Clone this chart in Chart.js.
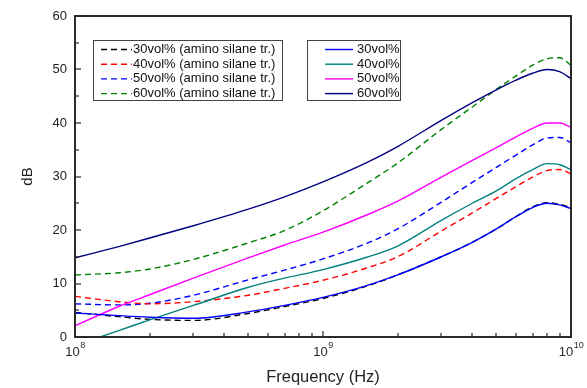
<!DOCTYPE html>
<html>
<head>
<meta charset="utf-8">
<script src="https://cdn.jsdelivr.net/npm/chart.js@4"></script>
<style>
  body { margin: 0; background: #fff; }
  #wrap { width: 587px; height: 388px; }
</style>
</head>
<body>
<div id="wrap"><canvas id="emiChart" width="587" height="388"></canvas></div>
<script>
// frequency points (Hz)
const freqs = [1e8, 1.5e8, 2e8, 3e8, 5e8, 7e8, 1e9, 1.5e9, 2e9, 3e9, 4e9, 5e9, 6e9, 7e9, 8e9, 9e9, 1e10];

// amino silane treated (dashed)
const amino30 = [4.6, 3.8, 3.3, 3.1, 4.4, 5.7, 7.2, 9.5, 11.6, 15.0, 17.7, 20.2, 22.5, 24.3, 25.1, 24.8, 24.2];
const amino40 = [7.6, 6.6, 6.2, 6.6, 7.8, 9.1, 10.6, 12.9, 15.0, 19.8, 23.2, 25.9, 28.1, 29.9, 31.1, 31.3, 30.5];
const amino50 = [6.2, 6.0, 6.3, 7.8, 10.7, 12.5, 14.6, 17.5, 20.2, 25.2, 28.9, 31.7, 34.0, 35.9, 37.2, 37.3, 36.3];
const amino60 = [11.6, 12.0, 12.7, 14.5, 17.6, 19.9, 23.6, 28.7, 32.5, 38.8, 43.0, 46.3, 48.8, 50.8, 52.0, 52.2, 50.8];

// untreated (solid)
const plain30 = [4.5, 4.0, 3.7, 3.5, 4.7, 5.9, 7.4, 9.6, 11.6, 15.0, 17.7, 20.2, 22.5, 24.2, 25.0, 24.7, 24.0];
const plain40 = [-1.6, 1.2, 3.2, 5.9, 9.3, 11.0, 12.6, 14.9, 17.0, 21.8, 25.0, 27.3, 29.6, 31.3, 32.4, 32.2, 31.3];
const plain50 = [2.1, 5.7, 7.9, 11.0, 14.8, 17.2, 19.6, 22.8, 25.4, 29.9, 33.0, 35.4, 37.4, 39.0, 40.0, 40.0, 39.2];
const plain60 = [14.8, 16.9, 18.5, 20.8, 23.9, 26.2, 29.0, 32.6, 35.6, 40.5, 43.8, 46.2, 48.0, 49.3, 50.0, 49.6, 48.3];

const yTicks = [0, 10, 20, 30, 40, 50, 60];
const xDecades = [8, 9, 10];

const aminoLabels = ['30vol% (amino silane tr.)', '40vol% (amino silane tr.)', '50vol% (amino silane tr.)', '60vol% (amino silane tr.)'];
const plainLabels = ['30vol%', '40vol%', '50vol%', '60vol%'];
const aminoColors = ['#000000', '#ff0000', '#0000ff', '#008000'];
const plainColors = ['#0000ff', '#008080', '#ff00ff', '#000080'];

function pts(vals) {
    return vals.map((v, i) => ({ x: freqs[i], y: v }));
}

const plainSets = [plain30, plain40, plain50, plain60].map((d, i) => ({
    label: plainLabels[i],
    data: pts(d),
    borderColor: plainColors[i],
    borderWidth: 1.4,
    pointRadius: 0,
    cubicInterpolationMode: 'monotone',
    fill: false
}));

const aminoSets = [amino30, amino40, amino50, amino60].map((d, i) => ({
    label: aminoLabels[i],
    data: pts(d),
    borderColor: aminoColors[i],
    borderWidth: 1.4,
    borderDash: [6, 4],
    pointRadius: 0,
    cubicInterpolationMode: 'monotone',
    fill: false
}));

// frame, inward ticks, superscript x labels, two legend boxes
const framePlugin = {
    id: 'frame',
    afterDraw(chart) {
        const ctx = chart.ctx;
        const L = Math.round(chart.chartArea.left);
        const R = Math.round(chart.chartArea.right);
        const T = Math.round(chart.chartArea.top);
        const B = Math.round(chart.chartArea.bottom);
        const xs = chart.scales.x;
        const ys = chart.scales.y;
        ctx.save();

        // frame as filled strips
        ctx.fillStyle = '#2a2a2a';
        ctx.fillRect(L - 1, T - 1, R - L + 2, 2);
        ctx.fillRect(L - 1, B - 1, R - L + 2, 2);
        ctx.fillRect(L - 1, T - 1, 2, B - T + 2);
        ctx.fillRect(R - 1, T - 1, 2, B - T + 2);

        // y ticks, major every 10, minor every 5
        for (let v = 0; v <= 60; v += 5) {
            const py = Math.round(ys.getPixelForValue(v));
            const len = v % 10 === 0 ? 6 : 4;
            ctx.fillRect(L, py - 0.6, len, 1.2);
        }
        // x ticks on log scale
        for (let d = 8; d <= 10; d++) {
            for (let k = 1; k <= 9; k++) {
                if (d === 10 && k > 1) break;
                const px = Math.round(xs.getPixelForValue(k * Math.pow(10, d)));
                const len = k === 1 ? 6 : 4;
                ctx.fillRect(px - 0.6, B - len, 1.2, len);
            }
        }

        // x labels 10^n
        ctx.textBaseline = 'alphabetic';
        ctx.textAlign = 'left';
        xDecades.forEach(d => {
            const px = xs.getPixelForValue(Math.pow(10, d));
            ctx.font = '13px Arial';
            const w1 = ctx.measureText('10').width;
            ctx.font = '9px Arial';
            const w2 = ctx.measureText(String(d)).width;
            const x0 = px - (w1 + w2) / 2;
            ctx.font = '13px Arial';
            ctx.fillText('10', x0, B + 19);
            ctx.font = '9px Arial';
            ctx.fillText(String(d), x0 + w1 + 0.5, B + 11);
        });

        // legends
        const drawLegend = (box, sets, lineX0, lineX1, textX) => {
            ctx.fillStyle = '#fff';
            ctx.fillRect(box.x, box.y, box.w, box.h);
            ctx.strokeStyle = '#444';
            ctx.lineWidth = 1;
            ctx.strokeRect(box.x + 0.5, box.y + 0.5, box.w, box.h);
            ctx.font = '13px Arial';
            ctx.textBaseline = 'middle';
            sets.forEach((s, i) => {
                const yy = box.y + 9.5 + i * 14.7;
                ctx.strokeStyle = s.borderColor;
                ctx.lineWidth = 1.4;
                ctx.setLineDash(s.borderDash || []);
                ctx.beginPath();
                ctx.moveTo(lineX0, yy);
                ctx.lineTo(lineX1, yy);
                ctx.stroke();
                ctx.setLineDash([]);
                ctx.fillStyle = '#111';
                ctx.fillText(s.label, textX, yy);
            });
        };
        drawLegend({ x: 93, y: 40, w: 189, h: 60 }, aminoSets, 101, 132, 133);
        drawLegend({ x: 307, y: 40, w: 93, h: 60 }, plainSets, 325, 353, 357);

        ctx.restore();
    }
};

new Chart(document.getElementById('emiChart'), {
    type: 'line',
    data: { datasets: plainSets.concat(aminoSets) },
    options: {
        responsive: false,
        animation: false,
        layout: { padding: { top: 16, right: 16, left: 0, bottom: 0 } },
        plugins: {
            legend: { display: false },
            tooltip: { enabled: false }
        },
        scales: {
            x: {
                type: 'logarithmic',
                min: 1e8,
                max: 1e10,
                grid: { display: false, drawTicks: false },
                border: { display: false },
                ticks: { display: false },
                title: {
                    display: true,
                    text: 'Frequency (Hz)',
                    color: '#222',
                    font: { size: 16.5, family: 'Arial' },
                    padding: { top: 0, bottom: 1 }
                },
                afterFit(scale) { scale.height = 51; }
            },
            y: {
                min: 0,
                max: 60,
                afterBuildTicks(scale) { scale.ticks = yTicks.map(v => ({ value: v })); },
                grid: { display: false, drawTicks: false },
                border: { display: false },
                ticks: {
                    color: '#222',
                    padding: 8,
                    font: { size: 13, family: 'Arial' }
                },
                title: {
                    display: true,
                    text: 'dB',
                    color: '#222',
                    font: { size: 15, family: 'Arial' },
                    padding: { top: 19, bottom: 0 }
                },
                afterFit(scale) { scale.width = 75; }
            }
        }
    },
    plugins: [framePlugin]
});
</script>
</body>
</html>
